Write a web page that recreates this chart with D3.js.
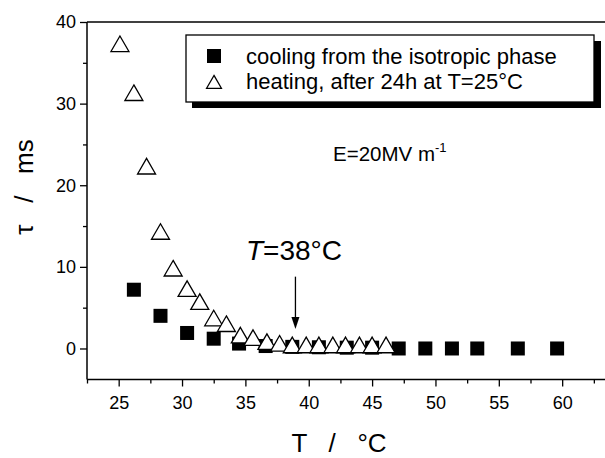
<!DOCTYPE html>
<html>
<head>
<meta charset="utf-8">
<script src="https://cdn.jsdelivr.net/npm/d3@7"></script>
<style>
html,body{margin:0;padding:0;background:#fff;}
svg{display:block;font-family:"Liberation Sans",Arial,sans-serif;}
</style>
</head>
<body>
<svg id="chart" width="605" height="458"></svg>
<script>
// ---- data ----
const heatingT   = [25.1, 26.2, 27.2, 28.3, 29.3, 30.4, 31.4, 32.5, 33.5, 34.6, 35.6, 36.7, 37.7, 38.7, 39.8, 40.8, 41.9, 42.9, 44.0, 45.0, 46.1];
const heatingTau = [37.2, 31.2, 22.2, 14.2, 9.7, 7.2, 5.6, 3.6, 2.9, 1.5, 1.2, 0.7, 0.5, 0.3, 0.3, 0.3, 0.3, 0.3, 0.3, 0.3, 0.3];
const coolingT   = [26.2, 28.3, 30.4, 32.5, 34.5, 36.6, 38.7, 40.8, 43.0, 45.0, 47.1, 49.2, 51.3, 53.3, 56.5, 59.6];
const coolingTau = [7.2, 4.0, 1.9, 1.2, 0.6, 0.3, 0.2, 0.15, 0.1, 0.1, 0, 0, 0, 0, 0, 0];
const xMajorTicks = [25, 30, 35, 40, 45, 50, 55, 60];
const xMinorTicks = [22.5, 27.5, 32.5, 37.5, 42.5, 47.5, 52.5, 57.5, 62.5];
const yMajorTicks = [0, 10, 20, 30, 40];
const yMinorTicks = [5, 15, 25, 35];
const legendLabels = ["cooling from the isotropic phase", "heating, after 24h at T=25°C"];
const arrowT = 38.95;
const arrowTau = [8.8, 2.4];

// ---- layout ----
const svg = d3.select("#chart");
const L = 87, T = 22, B = 379.5, R = 605;
const x = d3.scaleLinear().domain([22.5, 63.38]).range([L, R]);
const y = d3.scaleLinear().domain([-3.8, 40]).range([B, T]);
const fontF = '"Liberation Sans",Arial,sans-serif';

// axes
const xAxis = svg.append("g").attr("transform", `translate(0,${B})`)
  .call(d3.axisBottom(x).tickValues(xMajorTicks).tickSize(7).tickPadding(10).tickFormat(d3.format("d")));
const xMinor = svg.append("g").attr("transform", `translate(0,${B})`)
  .call(d3.axisBottom(x).tickValues(xMinorTicks).tickSize(4).tickFormat(""));
const yAxis = svg.append("g").attr("transform", `translate(${L},0)`)
  .call(d3.axisLeft(y).tickValues(yMajorTicks).tickSize(7).tickPadding(4).tickFormat(d3.format("d")));
const yMinor = svg.append("g").attr("transform", `translate(${L},0)`)
  .call(d3.axisLeft(y).tickValues(yMinorTicks).tickSize(4).tickFormat(""));
[xAxis, xMinor, yAxis, yMinor].forEach(g => {
  g.select(".domain").remove();
  g.selectAll("line").attr("stroke", "#000").attr("stroke-width", 1.3);
  g.selectAll("text").attr("font-family", fontF).attr("font-size", 18).attr("fill", "#000");
});
// frame lines
svg.append("line").attr("x1", L).attr("x2", R).attr("y1", B).attr("y2", B).attr("stroke", "#000").attr("stroke-width", 1.5);
svg.append("line").attr("x1", L).attr("x2", L).attr("y1", T).attr("y2", B).attr("stroke", "#000").attr("stroke-width", 1.5);
svg.append("line").attr("x1", L).attr("x2", R).attr("y1", T).attr("y2", T).attr("stroke", "#000").attr("stroke-width", 1.5);

// axis titles
svg.append("text").attr("x", 339).attr("y", 452).attr("text-anchor", "middle")
  .attr("font-size", 26).style("white-space", "pre")
  .text("T   /   °C");
svg.append("text").attr("transform", "translate(33,187) rotate(-90)").attr("text-anchor", "middle")
  .attr("font-size", 26).style("white-space", "pre")
  .text("τ   /   ms");

// markers
const sq = 14;
svg.append("g").selectAll("rect").data(coolingT).join("rect")
  .attr("x", (d) => x(d) - sq / 2)
  .attr("y", (d, i) => y(coolingTau[i]) - sq / 2)
  .attr("width", sq).attr("height", sq).attr("fill", "#000");
const tri = d3.symbol().type(d3.symbolTriangle).size(140);
svg.append("g").selectAll("path").data(heatingT).join("path")
  .attr("d", tri)
  .attr("transform", (d, i) => `translate(${x(d)},${y(heatingTau[i]) + 1.5})`)
  .attr("fill", "#fff").attr("stroke", "#000").attr("stroke-width", 1.3);

// legend
const lg = svg.append("g");
lg.append("rect").attr("x", 192).attr("y", 41).attr("width", 409).attr("height", 67).attr("fill", "#000");
lg.append("rect").attr("x", 186).attr("y", 35).attr("width", 408).attr("height", 67)
  .attr("fill", "#fff").attr("stroke", "#000").attr("stroke-width", 1.3);
lg.append("rect").attr("x", 207).attr("y", 49).attr("width", 14).attr("height", 14).attr("fill", "#000");
lg.append("path").attr("d", d3.symbol().type(d3.symbolTriangle).size(95))
  .attr("transform", "translate(214,84)").attr("fill", "#fff").attr("stroke", "#000").attr("stroke-width", 1.3);
lg.selectAll("text").data(legendLabels).join("text")
  .attr("x", 246).attr("y", (d, i) => 64 + i * 25)
  .attr("font-size", 22).text(d => d);

// field annotation
const e = svg.append("text").attr("x", 333).attr("y", 161).attr("font-size", 20.5);
e.append("tspan").text("E=20MV m");
e.append("tspan").attr("dy", -9).attr("font-size", 13).text("-1");

// T=38°C annotation with arrow
const a = svg.append("text").attr("x", 246).attr("y", 260).attr("font-size", 28);
a.append("tspan").attr("font-style", "italic").text("T");
a.append("tspan").text("=38°C");
svg.append("line").attr("x1", x(arrowT)).attr("x2", x(arrowT))
  .attr("y1", y(arrowTau[0])).attr("y2", y(arrowTau[1]) - 10)
  .attr("stroke", "#000").attr("stroke-width", 1.3);
svg.append("path")
  .attr("d", `M${x(arrowT) - 4},${y(arrowTau[1]) - 12} L${x(arrowT) + 4},${y(arrowTau[1]) - 12} L${x(arrowT)},${y(arrowTau[1])} Z`)
  .attr("fill", "#000");
</script>
</body>
</html>
